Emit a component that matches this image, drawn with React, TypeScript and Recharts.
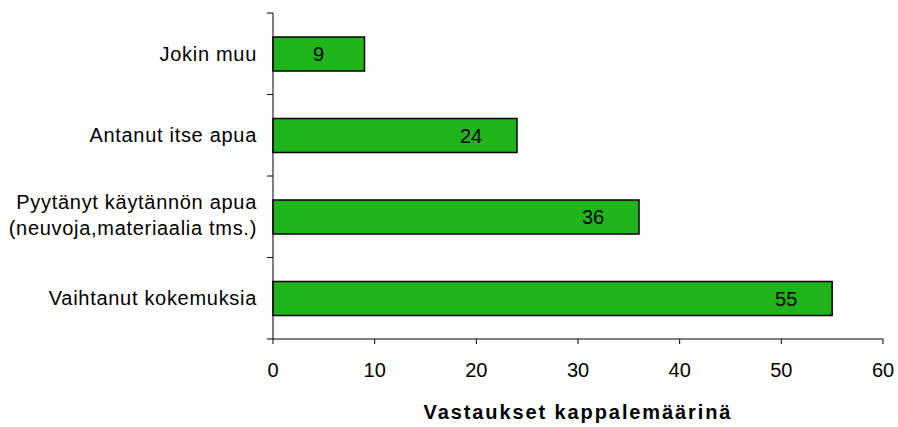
import React from "react";
import { Bar, BarChart, LabelList, XAxis, YAxis } from "recharts";

const categories = [
  "Jokin muu",
  "Antanut itse apua",
  "Pyytänyt käytännön apua (neuvoja,materiaalia tms.)",
  "Vaihtanut kokemuksia",
];
const counts = [9, 24, 36, 55];
const xTicks = [0, 10, 20, 30, 40, 50, 60];
const xTitle = "Vastaukset kappalemäärinä";

const FONT = '"Liberation Sans", Arial, sans-serif';

const data = categories.map((name, i) => ({ name, value: counts[i] }));

function CategoryTick(props: any) {
  const { x, y, payload, index, visibleTicksCount } = props;
  const half = payload?.offset || 40.8;
  const label: string = payload.value;
  const cut = label.indexOf(" (");
  const lines = cut > 0 ? [label.slice(0, cut), label.slice(cut + 1)] : [label];
  const lineH = 26;
  const start = y - ((lines.length - 1) * lineH) / 2 - (lines.length - 1) * 1.5;
  return (
    <g>
      <line x1={x - 6} x2={x} y1={y - half} y2={y - half} stroke="#000" />
      {index === visibleTicksCount - 1 && (
        <line x1={x - 6} x2={x} y1={y + half} y2={y + half} stroke="#000" />
      )}
      {lines.map((t, i) => (
        <text
          key={i}
          x={x - 16}
          y={start + i * lineH}
          dy="0.36em"
          textAnchor="end"
          fontSize={20}
          letterSpacing={0.7}
          fontFamily={FONT}
          fill="#000"
        >
          {t}
        </text>
      ))}
    </g>
  );
}

function ValueLabel(props: any) {
  const { x, y, width, height, value } = props;
  return (
    <text
      x={x + width - 46}
      y={y + height / 2}
      dy="0.36em"
      textAnchor="middle"
      fontSize={20}
      fontFamily={FONT}
      fill="#000"
    >
      {value}
    </text>
  );
}

export default function App() {
  return (
    <div style={{ position: "absolute", left: 0, top: 0, width: 898, height: 427, background: "#fff" }}>
      <BarChart
        width={898}
        height={427}
        data={data}
        layout="vertical"
        margin={{ top: 13, right: 15, bottom: 0, left: 0 }}
      >
        <XAxis
          type="number"
          domain={[0, 60]}
          ticks={xTicks}
          interval={0}
          height={88}
          axisLine={{ stroke: "#000" }}
          tickLine={{ stroke: "#000" }}
          tickSize={5}
          tickMargin={19}
          tick={{ fontSize: 20, fontFamily: FONT, fill: "#000" }}
          label={{
            value: xTitle,
            position: "insideBottom",
            offset: 8,
            style: {
              fontSize: 20,
              fontWeight: "bold",
              fontFamily: FONT,
              fill: "#000",
              letterSpacing: 1.9,
            },
          }}
        />
        <YAxis
          type="category"
          dataKey="name"
          width={273}
          axisLine={{ stroke: "#000" }}
          tickLine={false}
          tickSize={0}
          tickMargin={0}
          interval={0}
          tick={<CategoryTick />}
        />
        <Bar
          dataKey="value"
          fill="#1FB41A"
          stroke="#000"
          strokeWidth={1.5}
          barSize={34}
          isAnimationActive={false}
        >
          <LabelList dataKey="value" content={<ValueLabel />} />
        </Bar>
      </BarChart>
    </div>
  );
}
